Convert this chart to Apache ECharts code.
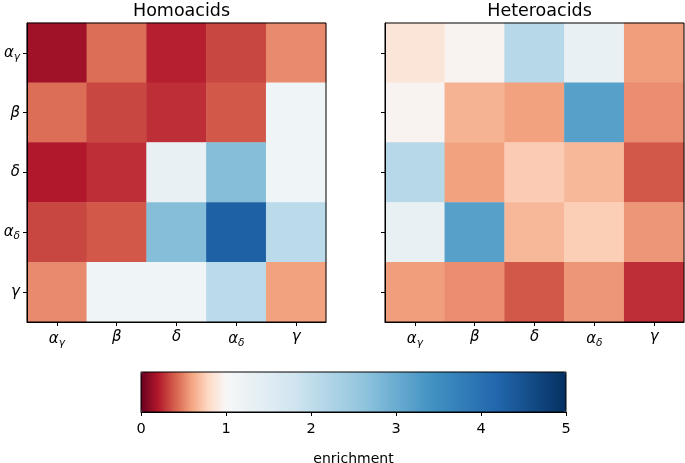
<!DOCTYPE html>
<html>
<head>
<meta charset="utf-8">
<script src="https://cdn.jsdelivr.net/npm/echarts@6/dist/echarts.min.js"></script>
<style>html,body{margin:0;padding:0;background:#fff}#c{width:685px;height:463px}</style>
</head>
<body>
<div id="c"></div>
<script>
// ---- data ----
var categories = ['a_g', 'b', 'd', 'a_d', 'g'];
var titles = ['Homoacids', 'Heteroacids'];
var homoacids = [
  [0.15, 0.44, 0.22, 0.33, 0.52],
  [0.44, 0.33, 0.26, 0.38, 1.17],
  [0.20, 0.26, 1.31, 2.72, 1.17],
  [0.33, 0.38, 2.72, 4.28, 2.07],
  [0.52, 1.17, 1.17, 2.07, 0.59]
];
var heteroacids = [
  [0.87, 0.97, 2.13, 1.30, 0.58],
  [0.97, 0.65, 0.59, 3.20, 0.53],
  [2.13, 0.59, 0.74, 0.67, 0.38],
  [1.30, 3.20, 0.67, 0.75, 0.56],
  [0.58, 0.53, 0.38, 0.56, 0.26]
];
var colorbarTicks = [0, 1, 2, 3, 4, 5];
var colorbarLabel = 'enrichment';

// ---- colormap (RdBu, two-slope centred at 1) ----
var rdbu = ['#67001f','#b2182b','#d6604d','#f4a582','#fddbc7','#f7f7f7','#d1e5f0','#92c5de','#4393c3','#2166ac','#053061'];
function hex2rgb(h){return [parseInt(h.substr(1,2),16),parseInt(h.substr(3,2),16),parseInt(h.substr(5,2),16)];}
function cmap(t){
  t = Math.max(0, Math.min(1, t));
  var p = t * 10, i = Math.min(9, Math.floor(p)), f = p - i;
  var a = hex2rgb(rdbu[i]), b = hex2rgb(rdbu[i+1]);
  var c = a.map(function(v,k){return Math.round(v + (b[k]-v)*f);});
  return 'rgb(' + c.join(',') + ')';
}
function norm(v){ return v < 1 ? 0.5 * v : 0.5 + 0.5 * (v - 1) / 4; }
var vmin = 0, vmax = 5, nStops = 101, colors = [];
for (var s = 0; s < nStops; s++) colors.push(cmap(norm(vmin + (vmax - vmin) * s / (nStops - 1))));

// ---- labels ----
var greek = {a:'α', b:'β', d:'δ', g:'γ'};
function fmt(v){
  var parts = v.split('_');
  var out = '{m|' + greek[parts[0]] + '}';
  if (parts[1]) out += '{s|' + greek[parts[1]] + '}';
  return out;
}
var rich = {
  m: {fontFamily: 'DejaVu Sans', fontStyle: 'italic', fontSize: 15, color: '#000'},
  s: {fontFamily: 'DejaVu Sans', fontStyle: 'italic', fontSize: 10.5, color: '#000', padding: [8, 0, 0, 0]}
};

function toCells(m){
  var out = [];
  for (var r = 0; r < m.length; r++) for (var c = 0; c < m[r].length; c++) out.push([c, r, m[r][c]]);
  return out;
}

var gridLefts = [27, 385];
var grids = [], xAxes = [], yAxes = [], series = [], titleOpts = [];
[homoacids, heteroacids].forEach(function(m, i){
  grids.push({left: gridLefts[i], top: 23, width: 299, height: 299, show: true, z: 5,
    outerBoundsMode: 'none', containLabel: false,
    backgroundColor: 'transparent', borderColor: '#000', borderWidth: 1});
  xAxes.push({type: 'category', gridIndex: i, data: categories, position: 'bottom',
    axisLine: {show: true, lineStyle: {color: '#000', width: 1}},
    axisTick: {show: true, alignWithLabel: true, length: 4, lineStyle: {color: '#000'}},
    axisLabel: {formatter: fmt, rich: rich, margin: 8, interval: 0},
    splitLine: {show: false}, z: 6});
  yAxes.push({type: 'category', gridIndex: i, data: categories, inverse: true,
    axisLine: {show: true, lineStyle: {color: '#000', width: 1}},
    axisTick: {show: true, alignWithLabel: true, length: 4, lineStyle: {color: '#000'}},
    axisLabel: {show: i === 0, formatter: fmt, rich: rich, margin: 7, interval: 0},
    splitLine: {show: false}, z: 6});
  series.push({type: 'heatmap', xAxisIndex: i, yAxisIndex: i, data: toCells(m),
    itemStyle: {borderWidth: 0}, emphasis: {disabled: true}, progressive: 0});
  titleOpts.push({text: titles[i], left: gridLefts[i] + 149.5, top: -3, textAlign: 'center',
    textStyle: {fontFamily: 'DejaVu Sans', fontSize: 17.5, fontWeight: 'normal', color: '#000'}});
});

// colorbar axis grid
grids.push({left: 141, top: 372, width: 425, height: 40, show: true, z: 10,
  outerBoundsMode: 'none', containLabel: false,
  backgroundColor: 'transparent', borderColor: '#000', borderWidth: 1});
xAxes.push({type: 'value', gridIndex: 2, min: colorbarTicks[0], max: colorbarTicks[colorbarTicks.length-1], interval: 1,
  position: 'bottom', name: colorbarLabel, nameLocation: 'middle', nameGap: 40,
  nameTextStyle: {fontFamily: 'DejaVu Sans', fontSize: 14, color: '#000'},
  axisLine: {show: true, lineStyle: {color: '#000'}},
  axisTick: {show: true, length: 4, lineStyle: {color: '#000'}},
  axisLabel: {fontFamily: 'DejaVu Sans', fontSize: 14.5, color: '#000', margin: 10},
  splitLine: {show: false}, z: 11});
yAxes.push({type: 'value', gridIndex: 2, show: false, min: 0, max: 1});

var chart = echarts.init(document.getElementById('c'), null, {renderer: 'canvas'});
chart.setOption({
  animation: false,
  backgroundColor: '#fff',
  title: titleOpts,
  grid: grids,
  xAxis: xAxes,
  yAxis: yAxes,
  visualMap: {
    type: 'continuous', min: vmin, max: vmax, seriesIndex: [0, 1],
    orient: 'horizontal', left: 141, top: 372, itemWidth: 40, itemHeight: 425,
    calculable: false, text: ['', ''], padding: 0, showLabel: false, hoverLink: false,
    inRange: {color: colors}
  },
  series: series
});
</script>
</body>
</html>
